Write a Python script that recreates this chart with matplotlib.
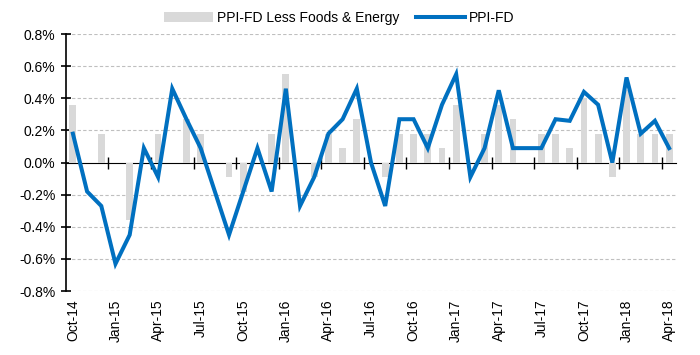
import matplotlib
matplotlib.use("Agg")
import matplotlib.pyplot as plt
from matplotlib.ticker import FuncFormatter, FixedLocator
from matplotlib.patches import Patch
from matplotlib.lines import Line2D

plt.rcParams['font.family'] = ['Liberation Sans', 'DejaVu Sans']

months = ["Oct-14", "Nov-14", "Dec-14", "Jan-15", "Feb-15", "Mar-15", "Apr-15", "May-15",
          "Jun-15", "Jul-15", "Aug-15", "Sep-15", "Oct-15", "Nov-15", "Dec-15", "Jan-16",
          "Feb-16", "Mar-16", "Apr-16", "May-16", "Jun-16", "Jul-16", "Aug-16", "Sep-16",
          "Oct-16", "Nov-16", "Dec-16", "Jan-17", "Feb-17", "Mar-17", "Apr-17", "May-17",
          "Jun-17", "Jul-17", "Aug-17", "Sep-17", "Oct-17", "Nov-17", "Dec-17", "Jan-18",
          "Feb-18", "Mar-18", "Apr-18"]

# PPI-FD less foods & energy, m/m %
core = [0.36, 0.0, 0.18, 0.0, -0.36, 0.0, 0.18, 0.0, 0.27, 0.18, 0.0, -0.09,
        -0.18, 0.0, 0.18, 0.55, 0.0, -0.09, 0.18, 0.09, 0.27, 0.0, -0.09, 0.18,
        0.18, 0.18, 0.09, 0.36, 0.0, 0.18, 0.36, 0.27, 0.0, 0.18, 0.18, 0.09,
        0.40, 0.18, -0.09, 0.45, 0.18, 0.18, 0.18]

# PPI-FD headline, m/m %
headline = [0.18, -0.18, -0.27, -0.63, -0.45, 0.09, -0.09, 0.46, 0.27, 0.09, -0.18, -0.45,
            -0.18, 0.09, -0.18, 0.46, -0.27, -0.09, 0.18, 0.27, 0.46, 0.0, -0.27, 0.27,
            0.27, 0.09, 0.36, 0.55, -0.09, 0.09, 0.45, 0.09, 0.09, 0.09, 0.27, 0.26,
            0.44, 0.36, 0.0, 0.53, 0.18, 0.26, 0.09]

y_ticks = [-0.8, -0.6, -0.4, -0.2, 0.0, 0.2, 0.4, 0.6, 0.8]

bar_color = "#d9d9d9"
line_color = "#0070c0"

fig = plt.figure(figsize=(7, 3.55), dpi=100)
ax = fig.add_axes([0.094, 0.18, 0.872, 0.724])

x = list(range(len(months)))
ax.bar(x, core, width=0.48, color=bar_color, zorder=2)
ax.plot(x, headline, color=line_color, linewidth=2.9, zorder=4, solid_joinstyle="miter")

ax.set_xlim(-0.5, len(months) - 0.5)
ax.set_ylim(-0.8, 0.8)

# y axis
ax.set_yticks(y_ticks)
ax.yaxis.set_major_formatter(FuncFormatter(lambda v, p: "%.1f%%" % v))
ax.tick_params(axis="y", direction="inout", length=7, width=1.2, labelsize=10, pad=4)
for v in y_ticks:
    if v != 0:
        ax.axhline(v, color="#bfbfbf", linestyle=(0, (3, 2)), linewidth=0.8, zorder=1)

# x labels at the bottom
lab_pos = x[::3]
ax.set_xticks(lab_pos)
ax.set_xticklabels(months[::3], rotation=90)
ax.tick_params(axis="x", length=0, labelsize=10, pad=6)

for side in ["top", "right", "bottom"]:
    ax.spines[side].set_visible(False)
ax.spines["left"].set_linewidth(1.2)

# category axis crossing at zero
zero_ax = ax.secondary_xaxis(0.5)
zero_ax.set_xticks([i + 0.5 for i in range(2, len(months) - 1, 3)])
zero_ax.set_xticklabels([])
zero_ax.tick_params(direction="inout", length=8, width=1.0)
zero_ax.spines["bottom"].set_linewidth(1.2)
zero_ax.spines["bottom"].set_color("#262626")

handles = [Patch(facecolor=bar_color, edgecolor="none"),
           Line2D([0], [0], color=line_color, linewidth=2.9)]
fig.legend(handles, ["PPI-FD Less Foods & Energy", "PPI-FD"], loc="center",
           bbox_to_anchor=(0.485, 0.95), ncol=2, frameon=False, fontsize=10,
           handlelength=3.5, handletextpad=0.3, columnspacing=1.2)

fig.savefig("out.png", dpi=100)
